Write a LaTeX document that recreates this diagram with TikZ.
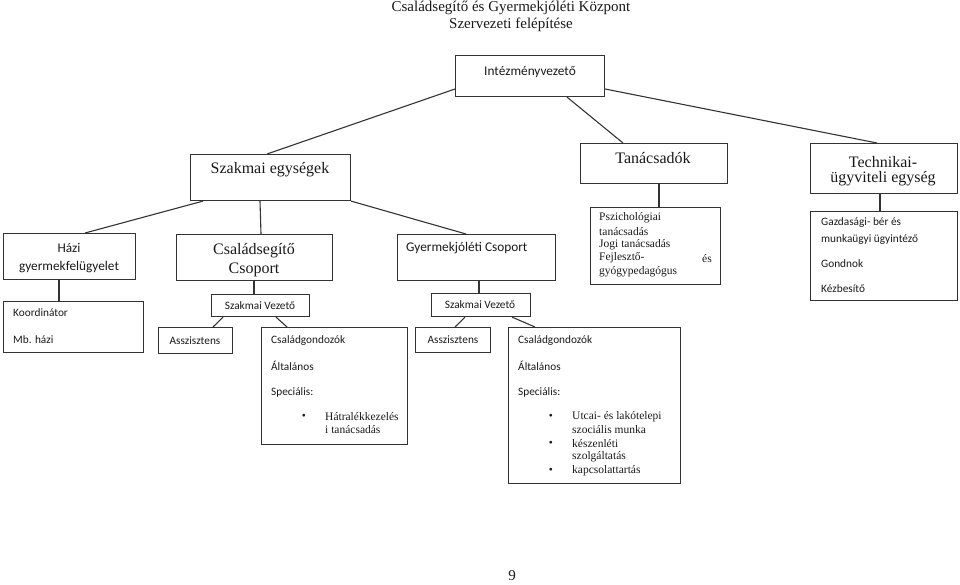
\documentclass[tikz,border=0pt]{standalone}
\usepackage{fontspec}
\setmainfont{Liberation Serif}
\newfontfamily\sansfam{Carlito}
\usetikzlibrary{calc}
\newcommand{\bxx}[5]{\node[box,anchor=north west,minimum width={(#4-#2)*1pt},minimum height={(#5-#3)*1pt}] (#1) at (#2,#3) {};}
\begin{document}
\begin{tikzpicture}[x=1pt,y=-1pt,
  box/.style={draw=black!80,line width=1.1pt,inner sep=0pt,fill=none},
  conn/.style={draw=black!80,line width=1.1pt},
  ser/.style={font=\fontsize{16}{18}\selectfont,text=black!90,inner sep=0pt},
  sertitle/.style={font=\fontsize{15}{17}\selectfont,text=black!90,inner sep=0pt},
  sersm/.style={font=\fontsize{11.5}{13}\selectfont,text=black!90,inner sep=0pt},
  sanbig/.style={font=\sansfam\fontsize{13.3}{15}\selectfont,text=black!90,inner sep=0pt},
  sansm/.style={font=\sansfam\fontsize{11.3}{13}\selectfont,text=black!90,inner sep=0pt},
  lft/.style={anchor=west}]
\useasboundingbox (0,0) rectangle (960,584);

% titles
\node[sertitle] (t1) at (511,8) {Családsegítő és Gyermekjóléti Központ};
\node[sertitle] (t2) at (511,25) {Szervezeti felépítése};
\node[sertitle] (pg) at (512,576) {9};

% boxes
\bxx{iv}{455}{55}{604}{96}
\bxx{se}{190}{154}{350}{200}
\bxx{tan}{580}{143}{727}{183}
\bxx{tech}{810}{143}{957}{193}
\bxx{psz}{590}{207}{720}{284}
\bxx{gaz}{810}{211}{957}{300}
\bxx{hazi}{3}{233}{135}{279}
\bxx{koord}{3}{301}{143}{352}
\bxx{csg}{176}{234}{332}{280}
\bxx{sv1}{211}{294}{309}{316}
\bxx{asz1}{158}{327}{232}{353}
\bxx{cg1}{261}{327}{407}{444}
\bxx{gyj}{397}{234}{555}{280}
\bxx{sv2}{431}{293}{530}{316}
\bxx{asz2}{415}{327}{490}{352}
\bxx{cg2}{508}{327}{680}{483}

% texts
\node[sanbig] (ivt) at (530,72) {Intézményvezető};
\node[ser] (set) at (270,170) {Szakmai egységek};
\node[ser] (tant) at (653,158) {Tanácsadók};
\node[ser] (techt1) at (883,162) {Technikai-};
\node[ser] (techt2) at (883,179) {ügyviteli egység};

\node[sersm,lft] (psz1) at (599,218) {Pszichológiai};
\node[sersm,lft] (psz2) at (599,231.4) {tanácsadás};
\node[sersm,lft] (psz3) at (599,244.8) {Jogi tanácsadás};
\node[sersm,lft] (psz4) at (599,258.2) {Fejlesztő-};
\node[sersm,anchor=east] (psz4b) at (712,258.2) {és};
\node[sersm,lft] (psz5) at (599,271.6) {gyógypedagógus};

\node[sansm,lft] (gaz1) at (821,223) {Gazdasági- bér és};
\node[sansm,lft] (gaz2) at (821,240) {munkaügyi ügyintéző};
\node[sansm,lft] (gaz3) at (821,264) {Gondnok};
\node[sansm,lft] (gaz4) at (821,289) {Kézbesítő};

\node[sanbig] (hazi1) at (69,248) {Házi};
\node[sanbig] (hazi2) at (69,267) {gyermekfelügyelet};
\node[sansm,lft] (ko1) at (13,313) {Koordinátor};
\node[sansm,lft] (ko2) at (13,340) {Mb. házi};

\node[ser] (csg1) at (254,251) {Családsegítő};
\node[ser] (csg2) at (254,270) {Csoport};
\node[sansm] (sv1t) at (260,306) {Szakmai Vezető};
\node[sansm] (asz1t) at (195,341) {Asszisztens};
\node[sansm,lft] (cg1a) at (271,341) {Családgondozók};
\node[sansm,lft] (cg1b) at (271,366) {Általános};
\node[sansm,lft] (cg1c) at (271,392) {Speciális:};
\node[sersm] (cg1bul) at (304,417) {•};
\node[sersm,lft] (cg1d) at (325,417) {Hátralékkezelés};
\node[sersm,lft] (cg1e) at (325,430) {i tanácsadás};

\node[sanbig,lft] (gyjt) at (406,248) {Gyermekjóléti Csoport};
\node[sansm] (sv2t) at (480,305) {Szakmai Vezető};
\node[sansm] (asz2t) at (453,340) {Asszisztens};
\node[sansm,lft] (cg2a) at (518,341) {Családgondozók};
\node[sansm,lft] (cg2b) at (518,366) {Általános};
\node[sansm,lft] (cg2c) at (518,392) {Speciális:};
\node[sersm] (cg2bul1) at (551,417) {•};
\node[sersm] (cg2bul2) at (551,444) {•};
\node[sersm] (cg2bul3) at (551,471) {•};
\node[sersm,lft] (cg2d) at (572,417) {Utcai- és lakótelepi};
\node[sersm,lft] (cg2e) at (572,430) {szociális munka};
\node[sersm,lft] (cg2f) at (572,444) {készenléti};
\node[sersm,lft] (cg2g) at (572,457) {szolgáltatás};
\node[sersm,lft] (cg2h) at (572,471) {kapcsolattartás};

% connectors
\draw[conn] ($(iv.north west)+(0,34)$) -- ($(se.north west)+(77,0)$);
\draw[conn] ($(iv.south west)+(112,0)$) -- ($(tan.north west)+(43,0)$);
\draw[conn] ($(iv.north east)+(0,34)$) -- ($(tech.north west)+(67,0)$);
\draw[conn] ($(tan.south west)+(79,0)$) -- ($(psz.north west)+(69,0)$);
\draw[conn] ($(tech.south west)+(70,0)$) -- ($(gaz.north west)+(70,0)$);
\draw[conn] ($(se.south west)+(13,0)$) -- ($(hazi.north west)+(82,0)$);
\draw[conn] ($(se.south west)+(70,0)$) -- ($(csg.north west)+(85,0)$);
\draw[conn] (se.south east) -- ($(gyj.north west)+(69,0)$);
\draw[conn] ($(hazi.south west)+(56,0)$) -- ($(koord.north west)+(56,0)$);
\draw[conn] ($(csg.south west)+(78,0)$) -- ($(sv1.north west)+(43,0)$);
\draw[conn] ($(sv1.south west)+(12,0)$) -- ($(asz1.north west)+(55,0)$);
\draw[conn] ($(sv1.south west)+(65,0)$) -- ($(cg1.north west)+(26,0)$);
\draw[conn] ($(gyj.south west)+(82,0)$) -- ($(sv2.north west)+(48,0)$);
\draw[conn] ($(sv2.south west)+(34,0)$) -- ($(asz2.north west)+(40,0)$);
\draw[conn] ($(sv2.south west)+(81,0)$) -- ($(cg2.north west)+(27,0)$);
\end{tikzpicture}
\end{document}
